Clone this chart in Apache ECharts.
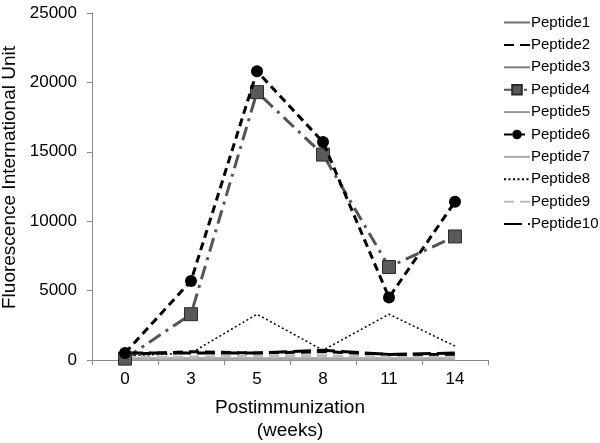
<!DOCTYPE html>
<html>
<head>
<meta charset="utf-8">
<script src="https://cdn.jsdelivr.net/npm/echarts@6/dist/echarts.min.js"></script>
<style>
  html, body { margin: 0; padding: 0; background: #fff; }
  #chart { width: 600px; height: 443px; }
</style>
</head>
<body>
<div id="chart"></div>
<script>
// weeks after immunization
const weeks = ['0', '3', '5', '8', '11', '14'];
const yTicks = [0, 5000, 10000, 15000, 20000, 25000];

const peptide1 = [100, 100, 100, 100, 100, 100];
const peptide2 = [400, 600, 500, 600, 400, 400];
const peptide3 = [80, 80, 80, 80, 80, 80];
const peptide4 = [100, 3300, 19300, 14800, 6700, 8900];
const peptide5 = [60, 60, 60, 60, 60, 60];
const peptide6 = [500, 5700, 20800, 15700, 4500, 11400];
const peptide7 = [50, 50, 50, 50, 50, 50];
const peptide8 = [300, 500, 3300, 700, 3300, 1000];
const peptide9 = [200, 200, 300, 300, 200, 200];
const peptide10 = [500, 500, 500, 700, 400, 500];

const FONT = 'Liberation Sans';

let chart = echarts.init(document.getElementById('chart'));

function line(name, data, color, width, type, extra) {
  return Object.assign({
    name: name,
    type: 'line',
    data: data,
    showSymbol: false,
    symbol: 'none',
    animation: false,
    itemStyle: { color: color },
    lineStyle: { color: color, width: width, type: type }
  }, extra || {});
}

// legend entries: series without markers get an invisible symbol
const noMark = { color: 'rgba(0,0,0,0)', borderWidth: 0 };
let legendData = ['Peptide1', 'Peptide2', 'Peptide3', 'Peptide4', 'Peptide5',
  'Peptide6', 'Peptide7', 'Peptide8', 'Peptide9', 'Peptide10'].map(n => {
  if (n == 'Peptide4' || n == 'Peptide6') return { name: n };
  return { name: n, itemStyle: noMark };
});

let option = {
  animation: false,
  grid: { left: 92, right: 112, top: 13, bottom: 83, outerBoundsMode: 'none', containLabel: false },
  legend: {
    orient: 'vertical',
    left: 498,
    top: 10,
    itemGap: 7.4,
    itemWidth: 26,
    itemHeight: 12,
    textStyle: { fontFamily: FONT, fontSize: 15, color: '#000', padding: [0, 0, 0, -4] },
    data: legendData
  },
  xAxis: {
    type: 'category',
    data: weeks,
    boundaryGap: true,
    name: 'Postimmunization\n(weeks)',
    nameLocation: 'middle',
    nameGap: 36,
    nameTextStyle: { fontFamily: FONT, fontSize: 19, color: '#000', lineHeight: 23, verticalAlign: 'top' },
    axisLine: { lineStyle: { color: '#888', width: 1 } },
    axisTick: { show: true, length: 5, lineStyle: { color: '#888' } },
    axisLabel: { fontFamily: FONT, fontSize: 17, color: '#000', margin: 11 }
  },
  yAxis: {
    type: 'value',
    min: yTicks[0],
    max: yTicks[yTicks.length - 1],
    interval: 5000,
    name: 'Fluorescence International Unit',
    nameLocation: 'middle',
    nameGap: 69,
    nameTextStyle: { fontFamily: FONT, fontSize: 19, color: '#000', padding: [0, 0, 0, 18] },
    splitLine: { show: false },
    axisLine: { show: true, lineStyle: { color: '#888', width: 1 } },
    axisTick: { show: true, length: 5, lineStyle: { color: '#888' } },
    axisLabel: { fontFamily: FONT, fontSize: 17, color: '#000', margin: 15, formatter: v => String(v) }
  },
  series: [
    line('Peptide1', peptide1, '#6e6e6e', 2, 'solid'),
    line('Peptide2', peptide2, '#000', 3, [10, 6]),
    line('Peptide3', peptide3, '#808080', 2, 'solid'),
    line('Peptide4', peptide4, '#555', 3, [14, 6, 3, 6], {
      showSymbol: true,
      symbol: 'rect',
      symbolSize: 13,
      itemStyle: { color: '#5a5a5a', borderColor: '#2a2a2a', borderWidth: 1 }
    }),
    line('Peptide5', peptide5, '#999', 2, 'solid'),
    line('Peptide6', peptide6, '#000', 3, [8, 5], {
      showSymbol: true,
      symbol: 'circle',
      symbolSize: 12,
      z: 5,
      itemStyle: { color: '#000' }
    }),
    line('Peptide7', peptide7, '#a8a8a8', 2, 'solid'),
    line('Peptide8', peptide8, '#000', 1.5, [2, 2.5]),
    line('Peptide9', peptide9, '#bbb', 3, [10, 6]),
    line('Peptide10', peptide10, '#000', 3, [18, 6])
  ]
};

chart.setOption(option);
</script>
</body>
</html>
